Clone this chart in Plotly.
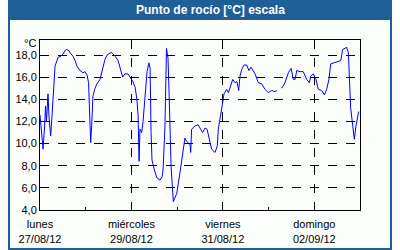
import plotly.graph_objects as go
import pandas as pd

title_text = "Punto de rocío [°C] escala"
start = "2012-08-27 00:00"

hours = [0, 0.8, 1.6, 2.4, 2.9, 3.4, 4.2, 4.7, 5.6, 6.3, 7.1, 7.9, 9.5, 11.0, 12.1, 13.1, 14.0,
         15.2, 15.8, 17.3, 18.4, 19.4, 21.0, 22.6, 23.6, 24.7, 25.5, 26.0, 26.6, 27.1, 27.8,
         28.9, 29.9, 31.5, 33.1, 34.1, 35.2, 36.8, 37.8, 39.4, 41.0, 42.5, 43.4, 44.6, 46.2,
         47.3, 48.2, 48.8, 49.9, 50.9, 51.5, 52.0, 52.5, 53.0, 53.4, 54.1, 55.1, 56.2, 57.2,
         57.8, 58.3, 58.8, 60.4, 61.4, 63.0, 64.1, 64.6, 65.6, 66.4, 67.2, 67.7, 68.3, 68.8,
         70.0, 71.8, 73.5, 75.2, 76.1, 77.0, 78.8, 79.1, 79.6, 81.4, 83.0, 84.0, 85.4, 86.6,
         87.7, 89.3, 90.1, 91.9, 93.1, 93.6, 94.9, 95.9, 96.6, 98.0, 98.9, 99.8, 101.2, 102.4,
         103.4, 104.3, 105.0, 105.9, 107.1, 108.5, 109.7, 110.8, 112.9, 114.6, 116.4, 118.1,
         119.9, 121.6, 123.4, 124.4, 125.6, 126.9, 128.6, 130.4, 131.8, 133.0, 133.9, 134.8,
         136.5, 138.2, 140.0, 141.4, 142.1, 143.5, 144.9, 146.1, 147.9, 149.3, 150.5, 151.7,
         152.6, 154.4, 156.6, 157.9, 158.9, 161.0, 161.9, 162.4, 163.1, 164.2, 165.0, 165.9,
         166.6, 167.3]

dew_point = [12.6, 11.0, 9.5, 11.5, 13.4, 12.0, 14.5, 12.5, 10.7, 12.5, 15.0, 17.0, 17.8, 17.9,
             18.1, 18.4, 18.5, 18.4, 18.2, 17.9, 17.5, 17.0, 16.6, 16.4, 16.5, 16.2, 15.5, 13.0,
             10.1, 11.5, 14.3, 15.0, 15.4, 15.8, 17.0, 17.6, 18.0, 18.2, 18.2, 17.9, 17.5, 16.6,
             16.0, 16.3, 16.3, 16.0, 15.8, 15.6, 15.1, 14.0, 12.5, 8.4, 11.3, 11.0, 11.0, 12.0,
             14.6, 16.5, 17.3, 16.8, 11.0, 8.5, 7.4, 6.9, 6.7, 7.0, 7.6, 11.5, 18.6, 17.7, 15.0,
             11.9, 8.0, 4.75, 5.5, 7.4, 9.5, 10.5, 10.2, 9.9, 9.2, 11.3, 11.6, 11.7, 11.4, 11.0,
             11.4, 11.3, 10.1, 9.5, 9.2, 9.8, 11.3, 12.5, 13.7, 14.5, 14.9, 14.6, 15.0, 15.8,
             15.5, 15.6, 14.8, 16.1, 16.7, 17.1, 17.1, 16.6, 16.9, 16.3, 15.5, 15.4, 14.9, 14.6,
             14.8, 14.7, 14.8, None, 15.0, 15.5, 16.4, 16.8, 15.8, 15.8, 16.6, 16.5, 16.5, 15.8,
             15.5, 16.1, 16.3, 15.8, 14.9, 14.8, 14.4, 14.9, 15.8, 17.2, 17.3, 17.4, 17.5, 18.5,
             18.7, 18.2, 16.1, 13.2, 11.6, 10.4, 11.6, 12.3, 12.9]

day_ticks = ["2012-08-27", "2012-08-29", "2012-08-31", "2012-09-02"]
day_labels = ["lunes<br>27/08/12", "miércoles<br>29/08/12", "viernes<br>31/08/12", "domingo<br>02/09/12"]
y_ticks = [4, 6, 8, 10, 12, 14, 16, 18]

times = pd.Timestamp(start) + pd.to_timedelta(hours, unit="h")

fig = go.Figure()
fig.add_trace(go.Scatter(x=times, y=dew_point, mode="lines",
                         line=dict(color="#0000ff", width=1), connectgaps=False,
                         hoverinfo="skip"))

font = dict(family="Liberation Sans", size=11, color="#000000")
blue = "#1f5f98"

fig.update_layout(
    width=400, height=250,
    margin=dict(l=40, r=40, t=40, b=40),
    paper_bgcolor="#fcfefc", plot_bgcolor="#fcfefc",
    showlegend=False,
    separators=",.",
    font=font,
    xaxis=dict(
        type="date", automargin=False,
        range=["2012-08-27 00:00", "2012-09-03 00:00"],
        tickvals=day_ticks, ticktext=day_labels,
        ticks="inside", ticklen=3, tickcolor="#000000",
        showgrid=True, gridcolor="#000000", griddash="dash", gridwidth=1,
        showline=True, linecolor="#000000", linewidth=1, mirror=True,
        zeroline=False, ticklabelstandoff=4,
        minor=dict(dtick=86400000, ticks="inside", ticklen=3, tickcolor="#000000", showgrid=False),
        tickfont=font,
    ),
    yaxis=dict(
        automargin=False,
        range=[4, 19.36],
        tickvals=y_ticks, tickformat=".1f",
        ticks="", showgrid=True, gridcolor="#000000", griddash="dash", gridwidth=1,
        showline=True, linecolor="#000000", linewidth=1, mirror=True,
        zeroline=False, tickfont=font,
    ),
    shapes=[
        dict(type="rect", xref="paper", yref="paper", x0=-0.1, x1=1.1, y0=1.0 + 20/170, y1=1.0 + 40/170,
             fillcolor=blue, line=dict(width=0), layer="above"),
        dict(type="rect", xref="paper", yref="paper", x0=-0.1 + 1/320, x1=1.1 - 1/320,
             y0=-40/170 + 1/170, y1=1.0 + 40/170 - 1/170,
             fillcolor="rgba(0,0,0,0)", line=dict(color=blue, width=2), layer="above"),
    ],
    annotations=[
        dict(text="<b>" + title_text + "</b>", xref="paper", yref="paper",
             x=(210 - 40) / 320, y=1.0 + 30/170, showarrow=False,
             font=dict(family="Liberation Sans", size=12, color="#ffffff"),
             xanchor="center", yanchor="middle"),
        dict(text="°C", xref="paper", yref="paper", x=-2/320, y=1.0 - 3/170,
             showarrow=False, font=font, xanchor="right", yanchor="middle"),
    ],
)

fig.write_html("out.html")
